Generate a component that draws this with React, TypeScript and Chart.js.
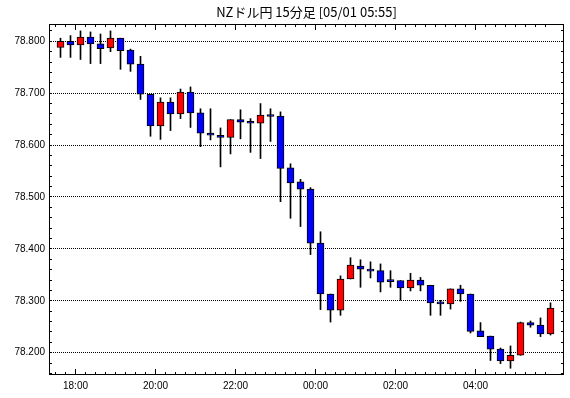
import React, { useEffect, useRef } from "react";
import { Chart, registerables } from "chart.js";

Chart.register(...registerables);

const TITLE = "NZドル円 15分足 [05/01 05:55]";

const TIMES = [
  "17:30", "17:45", "18:00", "18:15", "18:30", "18:45", "19:00", "19:15", "19:30", "19:45",
  "20:00", "20:15", "20:30", "20:45", "21:00", "21:15", "21:30", "21:45", "22:00", "22:15",
  "22:30", "22:45", "23:00", "23:15", "23:30", "23:45", "00:00", "00:15", "00:30", "00:45",
  "01:00", "01:15", "01:30", "01:45", "02:00", "02:15", "02:30", "02:45", "03:00", "03:15",
  "03:30", "03:45", "04:00", "04:15", "04:30", "04:45", "05:00", "05:15", "05:30", "05:45",
];

const OPEN = [
  78.788, 78.800, 78.793, 78.808, 78.795, 78.787, 78.806, 78.783, 78.756, 78.698,
  78.637, 78.683, 78.660, 78.702, 78.662, 78.623, 78.619, 78.615, 78.649, 78.645,
  78.642, 78.657, 78.656, 78.556, 78.529, 78.515, 78.411, 78.313, 78.282, 78.342,
  78.367, 78.361, 78.358, 78.338, 78.339, 78.325, 78.340, 78.330, 78.296, 78.294,
  78.323, 78.313, 78.242, 78.232, 78.207, 78.184, 78.195, 78.258, 78.253, 78.236,
];
const HIGH = [
  78.806, 78.811, 78.820, 78.818, 78.814, 78.820, 78.806, 78.785, 78.771, 78.698,
  78.691, 78.691, 78.708, 78.712, 78.670, 78.670, 78.633, 78.649, 78.668, 78.651,
  78.680, 78.670, 78.664, 78.564, 78.534, 78.518, 78.433, 78.313, 78.348, 78.383,
  78.379, 78.375, 78.371, 78.358, 78.339, 78.353, 78.345, 78.330, 78.301, 78.323,
  78.330, 78.313, 78.258, 78.232, 78.209, 78.213, 78.259, 78.261, 78.267, 78.296,
];
const LOW = [
  78.769, 78.769, 78.765, 78.757, 78.757, 78.780, 78.746, 78.742, 78.688, 78.617,
  78.611, 78.628, 78.651, 78.634, 78.597, 78.610, 78.558, 78.583, 78.612, 78.586,
  78.574, 78.607, 78.491, 78.459, 78.443, 78.389, 78.283, 78.259, 78.272, 78.342,
  78.326, 78.344, 78.317, 78.326, 78.301, 78.319, 78.319, 78.272, 78.272, 78.284,
  78.299, 78.238, 78.231, 78.185, 78.179, 78.170, 78.195, 78.249, 78.231, 78.234,
];
const CLOSE = [
  78.800, 78.793, 78.808, 78.795, 78.786, 78.806, 78.782, 78.756, 78.698, 78.637,
  78.683, 78.660, 78.702, 78.662, 78.623, 78.619, 78.615, 78.649, 78.644, 78.642,
  78.658, 78.655, 78.555, 78.527, 78.515, 78.411, 78.313, 78.282, 78.342, 78.369,
  78.361, 78.357, 78.336, 78.337, 78.325, 78.340, 78.330, 78.296, 78.294, 78.323,
  78.313, 78.241, 78.231, 78.207, 78.184, 78.195, 78.258, 78.253, 78.236, 78.286,
];

const X_TICK_LABELS = ["18:00", "20:00", "22:00", "00:00", "02:00", "04:00"];
const Y_TICKS = [78.2, 78.3, 78.4, 78.5, 78.6, 78.7, 78.8];

export default function App() {
  const ref = useRef<HTMLCanvasElement>(null);

  useEffect(() => {
    document.body.style.margin = "0";
    const canvas = ref.current;
    if (!canvas) return;

    const xTickPos = X_TICK_LABELS.map((l) => TIMES.indexOf(l) - 0.5);
    const colors = OPEN.map((o, i) => (CLOSE[i] > o ? "#ff0000" : "#0000ff"));

    const framePlugin = {
      id: "frame",
      afterDraw(chart: any) {
        const { ctx, chartArea: a, scales } = chart;
        ctx.save();
        ctx.strokeStyle = "#000";
        ctx.lineWidth = 1;
        ctx.strokeRect(a.left + 0.5, a.top + 0.5, a.right - a.left - 1, a.bottom - a.top - 1);
        ctx.beginPath();
        for (let k = 0; k < TIMES.length; k++) {
          const v = k - 0.5;
          const px = Math.floor(scales.x.getPixelForValue(v)) + 0.5;
          if (px < a.left || px > a.right) continue;
          const major = xTickPos.includes(v);
          const len = major ? 6 : 3;
          ctx.moveTo(px, a.bottom);
          ctx.lineTo(px, a.bottom - len);
          ctx.moveTo(px, a.top);
          ctx.lineTo(px, a.top + len);
        }
        const yMin = scales.y.min;
        const yMax = scales.y.max;
        for (let n = Math.ceil(yMin / 0.02); n * 0.02 <= yMax; n++) {
          const v = n * 0.02;
          const py = Math.floor(scales.y.getPixelForValue(v)) + 0.5;
          if (py <= a.top + 1 || py >= a.bottom - 1) continue;
          ctx.moveTo(a.left, py);
          ctx.lineTo(a.left + 3, py);
          ctx.moveTo(a.right, py);
          ctx.lineTo(a.right - 3, py);
        }
        ctx.stroke();
        ctx.fillStyle = "#000";
        ctx.font = "13px 'Noto Sans CJK JP'";
        ctx.textAlign = "center";
        ctx.textBaseline = "middle";
        ctx.fillText(TITLE, (a.left + a.right) / 2, 12);
        ctx.restore();
      },
    };

    const tickFont = { family: "'Liberation Sans', sans-serif", size: 10 };

    const chart = new Chart(canvas, {
      type: "bar",
      data: {
        datasets: [
          {
            label: "body",
            data: OPEN.map((o, i) => ({ x: i, y: [o, CLOSE[i]] })) as any,
            backgroundColor: colors,
            borderColor: "#000",
            borderWidth: 1,
            borderSkipped: false,
            barThickness: 7,
            minBarLength: 2,
            grouped: false,
            order: 0,
          } as any,
          {
            label: "wick",
            data: LOW.map((l, i) => ({ x: i, y: [l, HIGH[i]] })) as any,
            backgroundColor: "#000",
            borderWidth: 0,
            barThickness: 1,
            grouped: false,
            order: 1,
          } as any,
        ],
      },
      options: {
        responsive: false,
        animation: false,
        devicePixelRatio: 1,
        layout: { padding: { top: 24, right: 6, left: 0, bottom: 0 } },
        plugins: {
          legend: { display: false },
          tooltip: { enabled: false },
          title: { display: false },
        },
        scales: {
          x: {
            type: "linear",
            offset: false,
            min: -1.15,
            max: 50.35,
            grid: { display: false, drawTicks: false },
            border: { display: false },
            afterBuildTicks: (scale: any) => {
              scale.ticks = xTickPos.map((v) => ({ value: v }));
            },
            afterFit: (scale: any) => {
              scale.height = 23;
            },
            ticks: {
              autoSkip: false,
              maxRotation: 0,
              padding: 5,
              color: "#000",
              font: tickFont,
              callback: (v: any) => {
                const idx = xTickPos.indexOf(Number(v));
                return idx >= 0 ? X_TICK_LABELS[idx] : "";
              },
            },
          },
          y: {
            type: "linear",
            min: 78.157,
            max: 78.8333,
            grid: {
              display: true,
              color: "#000",
              lineWidth: 1,
              drawTicks: false,
            },
            border: { display: false, dash: [1, 1] },
            afterBuildTicks: (scale: any) => {
              scale.ticks = Y_TICKS.map((v) => ({ value: v }));
            },
            afterFit: (scale: any) => {
              scale.width = 49;
            },
            ticks: {
              autoSkip: false,
              padding: 4,
              color: "#000",
              font: tickFont,
              callback: (v: any) => Number(v).toFixed(3),
            },
          },
        },
      } as any,
      plugins: [framePlugin],
    });

    return () => chart.destroy();
  }, []);

  return (
    <canvas
      ref={ref}
      width={570}
      height={398}
      style={{ display: "block", width: 570, height: 398 }}
    />
  );
}
